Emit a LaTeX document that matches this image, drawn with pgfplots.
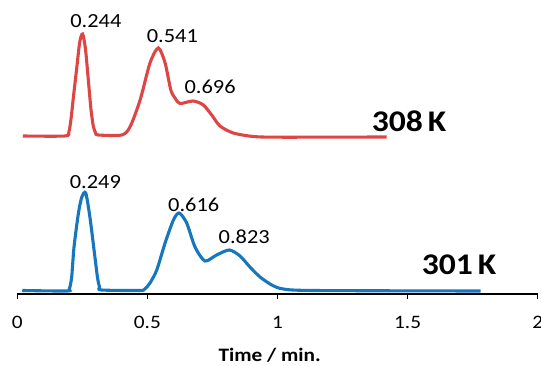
\documentclass[border=0pt]{standalone}
\usepackage{pgfplots}
\pgfplotsset{compat=1.18}
\usepackage{fontspec}
\setmainfont{Carlito}[FakeStretch=1.12]
\definecolor{redline}{RGB}{222,70,70}
\definecolor{blueline}{RGB}{22,118,190}
\begin{document}
\begin{tikzpicture}
\begin{axis}[
  scale only axis, width=520.4pt, height=294pt,
  xmin=0, xmax=2, ymin=0, ymax=294,
  axis y line=none, axis x line=bottom,
  x axis line style={-, line width=1.2pt, black},
  xtick={0,0.5,1,1.5,2},
  xticklabels={0,0.5,1,1.5,2},
  tick align=outside, major tick length=5.5pt,
  xtick style={line width=1.1pt, black},
  xticklabel style={font=\fontsize{19}{23}\selectfont, anchor=base, yshift=-29.5pt},
  xlabel={\textbf{Time / min.}},
  xlabel style={font=\fontsize{19}{23}\selectfont, at={(axis description cs:0.485,0)}, anchor=base, yshift=-68pt},
  clip=false,
]
\addplot[redline, line width=3.1pt, smooth, tension=0.45] coordinates {
(0.021,158) (0.183,158) (0.198,162) (0.206,174) (0.217,200) (0.228,225) (0.240,252) (0.251,260) (0.262,245) (0.273,214) (0.283,185) (0.292,168) (0.301,161) (0.311,159)
(0.401,159) (0.433,167) (0.472,194) (0.510,231) (0.542,246) (0.568,231) (0.590,204) (0.606,196)
(0.625,190.5) (0.676,193) (0.715,189) (0.747,179) (0.779,168) (0.830,161) (0.907,157.5) (1.01,156.8) (1.419,157)
};
\addplot[blueline, line width=3.1pt, smooth, tension=0.45] coordinates {
(0.019,3.5) (0.190,3) (0.200,5) (0.209,17) (0.218,47) (0.235,81) (0.248,97) (0.263,101) (0.279,77) (0.295,44) (0.308,17) (0.316,7) (0.324,4)
(0.470,3.5) (0.490,5) (0.510,11) (0.536,24) (0.568,51) (0.600,74) (0.622,81) (0.651,71) (0.683,47) (0.721,33)
(0.766,39) (0.815,44) (0.856,38) (0.894,27) (0.933,17) (0.978,9) (1.022,5) (1.138,3.5) (1.781,3)
};
\node[anchor=base, font=\fontsize{20}{24}\selectfont] at (axis cs:0.302,266.7) {0.244};
\node[anchor=base, font=\fontsize{20}{24}\selectfont] at (axis cs:0.596,251.3) {0.541};
\node[anchor=base, font=\fontsize{20}{24}\selectfont] at (axis cs:0.741,200.7) {0.696};
\node[anchor=base, font=\fontsize{20}{24}\selectfont] at (axis cs:0.300,105.7) {0.249};
\node[anchor=base, font=\fontsize{20}{24}\selectfont] at (axis cs:0.678,82.3) {0.616};
\node[anchor=base, font=\fontsize{20}{24}\selectfont] at (axis cs:0.872,50) {0.823};
\node[anchor=base west, inner sep=0pt, font=\fontsize{30}{34}\selectfont\bfseries] at (axis cs:1.362,162.3) {308\,K};
\node[anchor=base west, inner sep=0pt, font=\fontsize{30}{34}\selectfont\bfseries] at (axis cs:1.554,19.7) {301\,K};
\end{axis}
\pgfresetboundingbox
\path (-17.3pt,-72pt) rectangle (523.7pt,294pt);
\end{tikzpicture}
\end{document}
